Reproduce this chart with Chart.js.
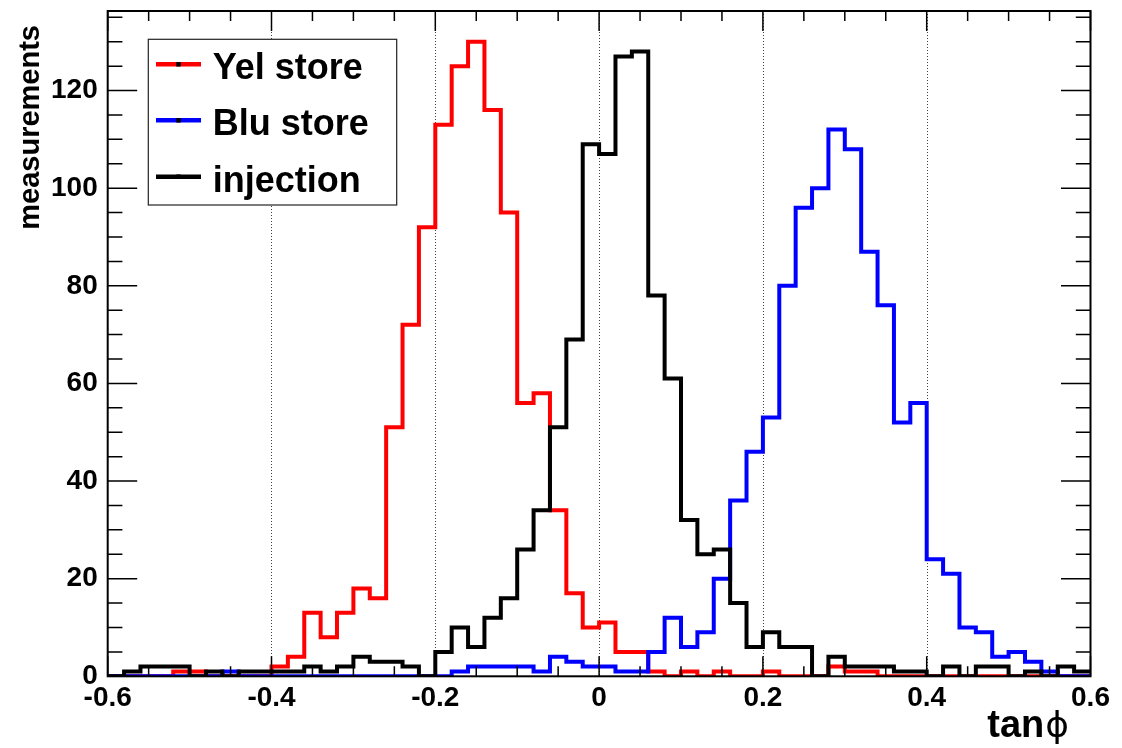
<!DOCTYPE html>
<html><head><meta charset="utf-8">
<script src="https://cdn.jsdelivr.net/npm/chart.js@4.4.1/dist/chart.umd.min.js"></script>
<style>html,body{margin:0;padding:0;background:#fff;}#wrap{width:1122px;height:748px;position:relative;}canvas{display:block;}</style>
</head><body><div id="wrap"><canvas id="c" width="1122" height="748"></canvas></div>
<script>
// ---- data ----
const binLeftEdges = [-0.60,-0.58,-0.56,-0.54,-0.52,-0.50,-0.48,-0.46,-0.44,-0.42,
  -0.40,-0.38,-0.36,-0.34,-0.32,-0.30,-0.28,-0.26,-0.24,-0.22,
  -0.20,-0.18,-0.16,-0.14,-0.12,-0.10,-0.08,-0.06,-0.04,-0.02,
  0.00,0.02,0.04,0.06,0.08,0.10,0.12,0.14,0.16,0.18,
  0.20,0.22,0.24,0.26,0.28,0.30,0.32,0.34,0.36,0.38,
  0.40,0.42,0.44,0.46,0.48,0.50,0.52,0.54,0.56,0.58];
const binUpperEdge = 0.60;
const yelStore = [0,0,0,0,1,1,0,0,0,0,
  2,4,13,8,13,18,16,51,72,92,
  113,125,130,116,95,56,58,34,17,10,
  11,5,5,1,0,1,0,1,0,0,
  1,0,0,0,2,1,1,0,0,0,
  0,0,0,0,0,0,0,0,0,0];
const bluStore = [0,0,0,0,0,0,0,1,0,0,
  0,0,0,0,0,0,0,0,0,0,
  0,1,2,2,2,2,1,4,3,2,
  2,1,1,5,12,6,9,20,36,46,
  53,80,96,100,112,108,87,76,52,56,
  24,21,10,9,4,5,3,1,0,0];
const injection = [0,1,2,2,2,0,1,0,1,1,
  1,1,2,1,2,4,3,3,2,0,
  5,10,6,12,16,26,34,51,69,109,
  107,127,128,78,61,32,25,26,15,6,
  9,6,6,0,4,2,2,2,1,1,
  0,2,0,2,2,0,1,0,2,1];
const seriesLabels = ['Yel store','Blu store','injection'];
const seriesColors = ['#ff0000','#0000ff','#000000'];
const xTickValues = [-0.6,-0.4,-0.2,0,0.2,0.4,0.6];
const xTickLabels = ['-0.6','-0.4','-0.2','0','0.2','0.4','0.6'];
const yTickValues = [0,20,40,60,80,100,120];
const yTickLabels = ['0','20','40','60','80','100','120'];
const xGridValues = [-0.4,-0.2,0,0.2,0.4];
const xAxisTitle = 'tan';
const xAxisTitleSymbol = 'ϕ';
const yAxisTitle = 'measurements';

// ---- helpers ----
function toSteps(values){
  const pts = binLeftEdges.map((x,i)=>({x:x, y:values[i]}));
  pts.push({x:binUpperEdge, y:values[values.length-1]});
  return pts;
}
const seriesValues = [yelStore, bluStore, injection];
const datasets = seriesValues.map((vals,i)=>({
  label: seriesLabels[i],
  data: toSteps(vals),
  borderColor: seriesColors[i],
  backgroundColor: seriesColors[i],
  borderWidth: 4,
  pointRadius: 0,
  fill: false,
  stepped: 'before',
  tension: 0,
  order: 3 - i
}));

const FONT = 'Liberation Sans, Arial, sans-serif';

const rootPlugin = {
  id: 'rootStyle',
  beforeDatasetsDraw(chart){
    const {ctx, chartArea:a, scales:{x}} = chart;
    ctx.save();
    ctx.strokeStyle = '#444';
    ctx.lineWidth = 1;
    ctx.setLineDash([1,2]);
    xGridValues.forEach(v=>{
      const px = Math.round(x.getPixelForValue(v)) + 0.5;
      ctx.beginPath(); ctx.moveTo(px, a.top); ctx.lineTo(px, a.bottom); ctx.stroke();
    });
    ctx.restore();
  },
  afterDatasetsDraw(chart){
    const {ctx, chartArea:a, scales:{x, y}} = chart;
    ctx.save();
    ctx.strokeStyle = '#000';
    ctx.lineWidth = 1.5;
    const xMajLen = 20, xMinLen = 10, yMajLen = 29.5, yMinLen = 14.7;
    for (let k = 0; k <= 24; k++){
      const v = -0.6 + k*0.05;
      const px = x.getPixelForValue(v);
      const len = (k % 4 === 0) ? xMajLen : xMinLen;
      ctx.beginPath();
      ctx.moveTo(px, a.bottom); ctx.lineTo(px, a.bottom - len);
      ctx.moveTo(px, a.top); ctx.lineTo(px, a.top + len);
      ctx.stroke();
    }
    for (let v = 0; v <= 136; v += 5){
      const py = y.getPixelForValue(v);
      const len = (v % 20 === 0) ? yMajLen : yMinLen;
      ctx.beginPath();
      ctx.moveTo(a.left, py); ctx.lineTo(a.left + len, py);
      ctx.moveTo(a.right, py); ctx.lineTo(a.right - len, py);
      ctx.stroke();
    }
    ctx.lineWidth = 2;
    ctx.strokeRect(a.left, a.top, a.right - a.left, a.bottom - a.top);

    // legend
    const lx = 148.3, ly = 39.3, lw = 248.4, lh = 165.7;
    ctx.fillStyle = '#fff';
    ctx.fillRect(lx, ly, lw, lh);
    ctx.lineWidth = 1.2;
    ctx.strokeStyle = '#222';
    ctx.strokeRect(lx, ly, lw, lh);
    const rows = [64.3, 120.3, 176.7];
    seriesLabels.forEach((lab,i)=>{
      const ry = rows[i];
      ctx.strokeStyle = seriesColors[i];
      ctx.lineWidth = 4.5;
      ctx.beginPath(); ctx.moveTo(156, ry); ctx.lineTo(201, ry); ctx.stroke();
      ctx.fillStyle = '#000';
      ctx.fillRect(176.3, ry - 2.25, 4.4, 4.5);
      ctx.font = 'bold 36px ' + FONT;
      ctx.textAlign = 'left';
      ctx.textBaseline = 'alphabetic';
      ctx.fillText(lab, 212.7, ry + 15);
    });

    // y axis title
    ctx.save();
    ctx.translate(38.5, 25);
    ctx.rotate(-Math.PI/2);
    ctx.font = 'bold 29px ' + FONT;
    ctx.fillStyle = '#000';
    ctx.textAlign = 'right';
    ctx.textBaseline = 'alphabetic';
    ctx.fillText(yAxisTitle, 0, 0);
    ctx.restore();

    // x axis title
    ctx.fillStyle = '#000';
    ctx.textBaseline = 'alphabetic';
    ctx.font = '36px DejaVu Sans, sans-serif';
    const symW = ctx.measureText(xAxisTitleSymbol).width;
    ctx.textAlign = 'right';
    ctx.fillText(xAxisTitleSymbol, 1069, 737);
    ctx.font = 'bold 38px ' + FONT;
    ctx.fillText(xAxisTitle, 1069 - symW - 1, 737);
    ctx.restore();
  }
};

const chart = new Chart(document.getElementById('c').getContext('2d'), {
  type: 'line',
  data: { datasets: datasets },
  options: {
    responsive: false,
    animation: false,
    events: [],
    layout: { padding: { top: 11, right: 31.5, left: 0, bottom: 0 } },
    plugins: { legend: { display: false }, tooltip: { enabled: false } },
    scales: {
      x: {
        type: 'linear', min: -0.6, max: 0.6,
        afterBuildTicks: s => { s.ticks = xTickValues.map(v => ({ value: v })); },
        afterFit: s => { s.height = 71.7; s.paddingLeft = 0; s.paddingRight = 0; },
        grid: { display: false, drawTicks: false },
        border: { display: false },
        ticks: {
          callback: (v, i) => xTickLabels[i],
          font: { family: FONT, weight: 'bold', size: 28 },
          color: '#000', padding: 5, maxRotation: 0, autoSkip: false
        }
      },
      y: {
        type: 'linear', min: 0, max: 136.3,
        afterBuildTicks: s => { s.ticks = yTickValues.map(v => ({ value: v })); },
        afterFit: s => { s.width = 107.7; s.paddingTop = 0; s.paddingBottom = 0; },
        grid: { display: false, drawTicks: false },
        border: { display: false },
        ticks: {
          callback: (v, i) => yTickLabels[i],
          font: { family: FONT, weight: 'bold', size: 28 },
          color: '#000', padding: 10, autoSkip: false
        }
      }
    }
  },
  plugins: [rootPlugin]
});
</script>
</body></html>
